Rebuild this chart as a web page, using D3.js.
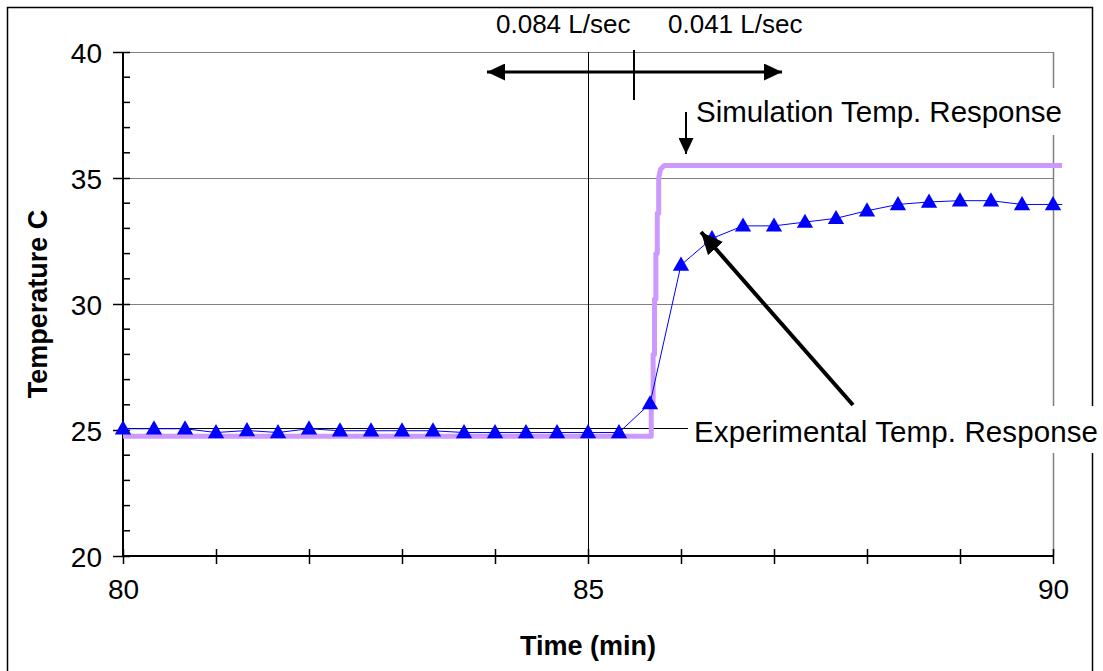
<!DOCTYPE html>
<html>
<head>
<meta charset="utf-8">
<script src="https://cdn.jsdelivr.net/npm/d3@7"></script>
<style>
  body { margin: 0; background: #fff; }
  svg text { font-family: "Liberation Sans", Arial, sans-serif; }
</style>
</head>
<body>
<div id="chart"></div>
<script>
// Experimental readings, one every 20 s (last one sits just past the frame)
const expTime = [80, 80.333, 80.667, 81, 81.333, 81.667, 82, 82.333, 82.667, 83, 83.333, 83.667,
  84, 84.333, 84.667, 85, 85.333, 85.667, 86, 86.333, 86.667, 87, 87.333, 87.667,
  88, 88.333, 88.667, 89, 89.333, 89.667, 90, 90.333];
const expTemp = [25.05, 25.05, 25.05, 24.9, 24.98, 24.9, 25.05, 24.97, 24.97, 24.97, 24.97, 24.9,
  24.9, 24.9, 24.9, 24.9, 24.9, 26.05, 31.55, 32.6, 33.1, 33.1, 33.25, 33.4,
  33.7, 33.95, 34.05, 34.1, 34.1, 33.95, 33.95, 33.95];

// Simulation response (jagged step when the flow switches)
const simTime = [80, 85.68, 85.68, 85.7, 85.7, 85.715, 85.715, 85.73, 85.73, 85.745, 85.745, 85.76, 85.76, 85.78, 85.82, 90.1];
const simTemp = [24.75, 24.75, 26.1, 26.1, 28.0, 28.0, 30.2, 30.2, 32.0, 32.0, 33.6, 33.6, 35.0, 35.35, 35.5, 35.5];

const xTicks = [80, 81, 82, 83, 84, 85, 86, 87, 88, 89, 90];
const xLabels = [80, 85, 90];
const yMajor = [20, 25, 30, 35, 40];
const yMinor = [21, 22, 23, 24, 26, 27, 28, 29, 31, 32, 33, 34, 36, 37, 38, 39];
const flowSwitch = 85.5;

const width = 1103, height = 671;
const svg = d3.select("#chart").append("svg")
    .attr("width", width)
    .attr("height", height);

const x = d3.scaleLinear().domain([80, 90]).range([123, 1053]);
const y = d3.scaleLinear().domain([20, 40]).range([556, 52]);

// outer frame
svg.append("rect")
    .attr("x", 7.5).attr("y", 7.5)
    .attr("width", 1085).attr("height", 700)
    .attr("fill", "none").attr("stroke", "#000").attr("stroke-width", 1.5);

const defs = svg.append("defs");
function arrowHead(id, w, h) {
    defs.append("marker")
        .attr("id", id)
        .attr("viewBox", `0 0 ${w} ${h}`)
        .attr("refX", w).attr("refY", h / 2)
        .attr("markerWidth", w).attr("markerHeight", h)
        .attr("markerUnits", "userSpaceOnUse")
        .attr("orient", "auto")
        .append("path")
        .attr("d", `M0,0L${w},${h / 2}L0,${h}Z`)
        .attr("fill", "#000");
}
arrowHead("headBig", 18, 17);
arrowHead("headSmall", 16, 15);
arrowHead("headExp", 22, 20);

defs.append("clipPath").attr("id", "plotClip")
    .append("rect")
    .attr("x", x(80) - 10).attr("y", y(40))
    .attr("width", x(90.1) - x(80) + 10).attr("height", y(20) - y(40));

// gridlines
svg.append("g").selectAll("line")
    .data([30, 35, 40])
    .join("line")
    .attr("x1", x(80)).attr("x2", x(90))
    .attr("y1", d => y(d) + 0.5).attr("y2", d => y(d) + 0.5)
    .attr("stroke", "#808080").attr("stroke-width", 1);

svg.append("line")
    .attr("x1", x(90) + 0.5).attr("x2", x(90) + 0.5)
    .attr("y1", y(40)).attr("y2", y(20))
    .attr("stroke", "#808080").attr("stroke-width", 1.5);

svg.append("line")
    .attr("x1", x(85) + 0.5).attr("x2", x(85) + 0.5)
    .attr("y1", y(40)).attr("y2", y(20))
    .attr("stroke", "#000").attr("stroke-width", 1);

// leader line at 25 to the experimental label
svg.append("line")
    .attr("x1", x(80)).attr("x2", 688)
    .attr("y1", y(25) - 1.5).attr("y2", y(25) - 1.5)
    .attr("stroke", "#000").attr("stroke-width", 1);

// axes
const xAxis = svg.append("g")
    .attr("transform", `translate(0,${y(20)})`)
    .call(d3.axisBottom(x).tickValues(xTicks).tickSize(7)
        .tickFormat(d => xLabels.includes(d) ? d : ""));
xAxis.select(".domain").attr("stroke-width", 2).attr("d", `M${x(80)},0H${x(90)}`);
xAxis.selectAll(".tick line").attr("y1", -7).attr("y2", 8).attr("stroke-width", 1.5);
xAxis.selectAll(".tick text")
    .attr("y", 43).attr("dy", 0)
    .attr("font-size", 28).attr("fill", "#000")
    .style("font-family", "Liberation Sans, Arial, sans-serif");

const yAxis = svg.append("g")
    .attr("transform", `translate(${x(80)},0)`)
    .call(d3.axisLeft(y).tickValues(yMajor).tickSize(10).tickPadding(11));
yAxis.select(".domain").attr("stroke-width", 2).attr("d", `M0,${y(40)}V${y(20)}`);
yAxis.selectAll(".tick line").attr("x1", 7).attr("x2", -10).attr("stroke-width", 1.5);
yAxis.selectAll(".tick text")
    .attr("font-size", 28).attr("fill", "#000").attr("dy", "0.36em")
    .style("font-family", "Liberation Sans, Arial, sans-serif");

svg.append("g").selectAll("line")
    .data(yMinor)
    .join("line")
    .attr("x1", x(80)).attr("x2", x(80) + 7)
    .attr("y1", d => y(d)).attr("y2", d => y(d))
    .attr("stroke", "#000").attr("stroke-width", 1.5);

// axis titles
svg.append("text")
    .attr("x", 588).attr("y", 655)
    .attr("text-anchor", "middle")
    .attr("font-size", 27).attr("font-weight", "bold")
    .text("Time (min)");

svg.append("text")
    .attr("transform", `translate(47,${y(30)}) rotate(-90)`)
    .attr("text-anchor", "middle")
    .attr("font-size", 27).attr("font-weight", "bold")
    .text("Temperature C");

// series
const plot = svg.append("g").attr("clip-path", "url(#plotClip)");

const simData = simTime.map((t, i) => ({ t, v: simTemp[i] }));
const expData = expTime.map((t, i) => ({ t, v: expTemp[i] }));

plot.append("path")
    .datum(simData)
    .attr("fill", "none")
    .attr("stroke", "#CC99FF")
    .attr("stroke-width", 5)
    .attr("stroke-linejoin", "round")
    .attr("d", d3.line().x(d => x(d.t)).y(d => y(d.v)));

plot.append("path")
    .datum(expData)
    .attr("fill", "none")
    .attr("stroke", "#0000FF")
    .attr("stroke-width", 1)
    .attr("d", d3.line().x(d => x(d.t)).y(d => y(d.v)));

svg.append("g").selectAll("path")
    .data(expData.filter(d => d.t <= 90))
    .join("path")
    .attr("transform", d => `translate(${x(d.t)},${y(d.v) + 1})`)
    .attr("d", d3.symbol(d3.symbolTriangle, 115))
    .attr("fill", "#0000FF");

// flow annotation at the top
const arrowY = 72;
svg.append("line")
    .attr("x1", x(flowSwitch)).attr("x2", 487)
    .attr("y1", arrowY).attr("y2", arrowY)
    .attr("stroke", "#000").attr("stroke-width", 3)
    .attr("marker-end", "url(#headBig)");
svg.append("line")
    .attr("x1", x(flowSwitch)).attr("x2", 782)
    .attr("y1", arrowY).attr("y2", arrowY)
    .attr("stroke", "#000").attr("stroke-width", 3)
    .attr("marker-end", "url(#headBig)");
svg.append("line")
    .attr("x1", x(flowSwitch) - 0.5).attr("x2", x(flowSwitch) - 0.5)
    .attr("y1", 50).attr("y2", 100)
    .attr("stroke", "#000").attr("stroke-width", 2);

svg.append("text")
    .attr("x", 496).attr("y", 33)
    .attr("font-size", 26)
    .text("0.084 L/sec");
svg.append("text")
    .attr("x", 668).attr("y", 33)
    .attr("font-size", 26)
    .text("0.041 L/sec");

// simulation label
svg.append("rect")
    .attr("x", 692).attr("y", 88).attr("width", 376).attr("height", 47)
    .attr("fill", "#fff");
svg.append("text")
    .attr("x", 696).attr("y", 122)
    .attr("font-size", 29.5)
    .attr("textLength", 366)
    .text("Simulation Temp. Response");
svg.append("line")
    .attr("x1", 686).attr("x2", 686)
    .attr("y1", 112).attr("y2", 154)
    .attr("stroke", "#000").attr("stroke-width", 2)
    .attr("marker-end", "url(#headSmall)");

// experimental label
svg.append("rect")
    .attr("x", 690).attr("y", 406).attr("width", 413).attr("height", 47)
    .attr("fill", "#fff");
svg.append("text")
    .attr("x", 694).attr("y", 442)
    .attr("font-size", 29.5)
    .attr("textLength", 404)
    .text("Experimental Temp. Response");
svg.append("line")
    .attr("x1", 853).attr("x2", 701)
    .attr("y1", 405).attr("y2", 232)
    .attr("stroke", "#000").attr("stroke-width", 4)
    .attr("marker-end", "url(#headExp)");
</script>
</body>
</html>
